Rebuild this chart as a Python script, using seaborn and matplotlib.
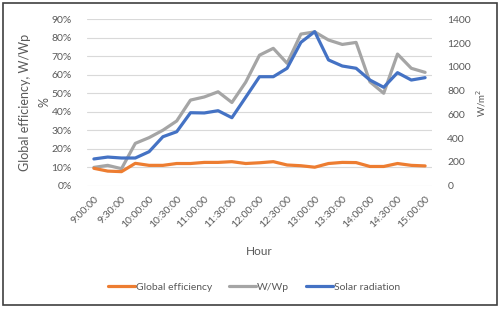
import numpy as np
import pandas as pd
import matplotlib
matplotlib.use("Agg")
import matplotlib.pyplot as plt
import seaborn as sns
from matplotlib.patches import Rectangle
from matplotlib.lines import Line2D

# ---- data ----
hours = ["9:00:00", "9:15:00", "9:30:00", "9:45:00", "10:00:00", "10:15:00", "10:30:00",
         "10:45:00", "11:00:00", "11:15:00", "11:30:00", "11:45:00", "12:00:00", "12:15:00",
         "12:30:00", "12:45:00", "13:00:00", "13:15:00", "13:30:00", "13:45:00", "14:00:00",
         "14:15:00", "14:30:00", "14:45:00", "15:00:00"]
global_eff = [9.4, 7.9, 7.6, 12.1, 11.0, 11.0, 12.0, 12.0, 12.6, 12.6, 13.0, 12.0, 12.4,
              13.0, 11.2, 10.8, 10.0, 12.0, 12.6, 12.5, 10.4, 10.4, 12.0, 11.0, 10.7]
w_wp = [9.9, 11.0, 9.2, 22.9, 26.0, 30.0, 35.0, 46.3, 48.0, 50.8, 45.0, 56.0, 70.6,
        74.3, 66.2, 82.0, 83.2, 78.8, 76.4, 77.5, 56.2, 50.0, 71.2, 63.5, 61.3]
solar = [225, 241, 233, 233, 286, 412, 454, 614, 612, 631, 572, 744, 917,
         917, 988, 1206, 1296, 1058, 1007, 988, 889, 828, 951, 889, 909]
left_ticks = [0, 10, 20, 30, 40, 50, 60, 70, 80, 90]
right_ticks = [0, 200, 400, 600, 800, 1000, 1200, 1400]

C_ORANGE = "#ED7D31"
C_GREY = "#A5A5A5"
C_BLUE = "#4472C4"
TXT = "#595959"

sns.set_theme(style="white")
plt.rcParams["font.family"] = ["Lato", "DejaVu Sans"]

df = pd.DataFrame({"idx": np.arange(len(hours)), "hour": hours,
                   "eff": global_eff, "wwp": w_wp, "solar": solar})

W, H = 501, 310
fig = plt.figure(figsize=(W / 100, H / 100), dpi=100)
ax = fig.add_axes([87 / W, 1 - 185.7 / H, (432 - 87) / W, (185.7 - 19.3) / H])
ax2 = ax.twinx()

lw = 2.3
sns.lineplot(data=df, x="idx", y="eff", ax=ax, color=C_ORANGE, linewidth=lw, zorder=3)
sns.lineplot(data=df, x="idx", y="wwp", ax=ax, color=C_GREY, linewidth=lw, zorder=2)
sns.lineplot(data=df, x="idx", y="solar", ax=ax2, color=C_BLUE, linewidth=lw, zorder=4)

ax.set_xlim(-0.5, len(hours) - 0.5)
ax.set_ylim(0, 90)
ax2.set_ylim(0, 1400)
ax.set_yticks(left_ticks)
ax.set_yticklabels([f"{t}%" for t in left_ticks])
ax2.set_yticks(right_ticks)
ax2.set_yticklabels([str(t) for t in right_ticks])

ax.set_xticks(df["idx"][::2])
ax.set_xticklabels(hours[::2], rotation=45, ha="right", rotation_mode="anchor")

for a in (ax, ax2):
    for s in a.spines.values():
        s.set_visible(False)
    a.tick_params(length=0, labelsize=7.5, labelcolor=TXT)
ax.tick_params(axis="y", pad=11)
ax2.tick_params(axis="y", pad=11)
ax.tick_params(axis="x", pad=6)

ax.grid(axis="y", color="#D9D9D9", linewidth=0.8)
ax.set_axisbelow(True)

ax.set_xlabel("Hour", fontsize=8.5, color=TXT, labelpad=12)
ax.set_ylabel("Global efficiency, W/Wp\n%", fontsize=9, color=TXT, labelpad=1,
              linespacing=1.7)
ax2.set_ylabel("W/m$^2$", fontsize=7, color=TXT, labelpad=2)

handles = [Line2D([], [], color=C_ORANGE, lw=lw),
           Line2D([], [], color=C_GREY, lw=lw),
           Line2D([], [], color=C_BLUE, lw=lw)]
fig.legend(handles, ["Global efficiency", "W/Wp", "Solar radiation"],
           loc="center", bbox_to_anchor=(254 / W, 1 - 287 / H), ncol=3, frameon=False,
           fontsize=7.5, labelcolor=TXT, handlelength=2.6, handletextpad=0.1,
           columnspacing=1.6)

fig.patches.append(Rectangle((3 / W, 5 / H), 494 / W, 302 / H, transform=fig.transFigure,
                             fill=False, edgecolor="#404040", linewidth=1.2))

fig.savefig("out.png", dpi=100)
